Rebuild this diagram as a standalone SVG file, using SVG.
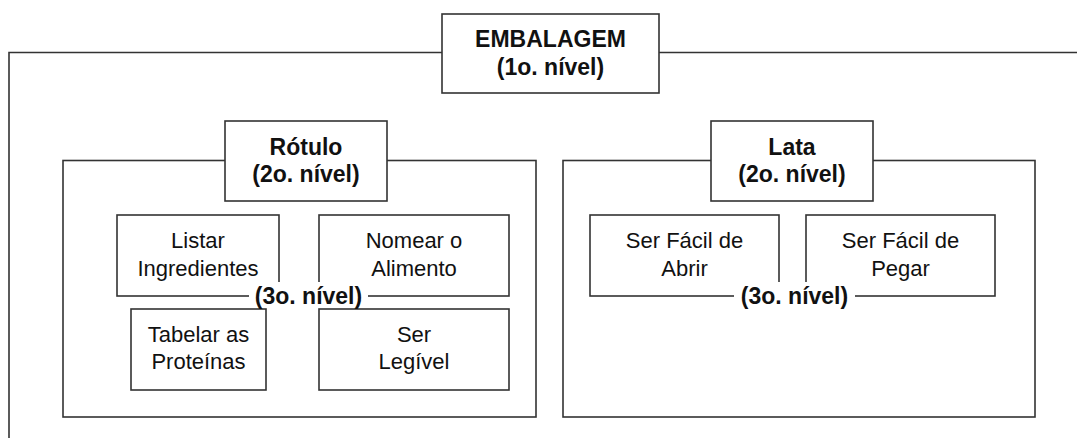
<svg xmlns="http://www.w3.org/2000/svg" width="1077" height="438" viewBox="0 0 1077 438">
<style>
.ln{fill:none;stroke:#333;stroke-width:1.6}
.bx{fill:#fff;stroke:#333;stroke-width:1.6}
.mask{fill:#fff;stroke:none}
.b{font-family:"Liberation Sans",Arial,sans-serif;font-weight:bold;font-size:23px;fill:#111;text-anchor:middle}
.n{font-family:"Liberation Sans",Arial,sans-serif;font-size:22px;fill:#111;text-anchor:middle}
</style>
<rect width="1077" height="438" fill="#fff"/>
<g id="frames">
<polyline class="ln" points="9,438 9,52.5 1077,52.5"/>
<rect class="ln" x="63" y="160.5" width="473" height="256.5"/>
<rect class="ln" x="563" y="160.5" width="472" height="256.5"/>
</g>
<g id="embalagem">
<rect class="bx" x="442" y="14" width="217" height="79"/>
<text class="b" x="550.5" y="47">EMBALAGEM</text>
<text class="b" x="550.5" y="75">(1o. nível)</text>
</g>
<g id="rotulo">
<rect class="bx" x="225" y="121" width="162" height="80"/>
<text class="b" x="306" y="155">Rótulo</text>
<text class="b" x="306" y="182">(2o. nível)</text>
</g>
<g id="lata">
<rect class="bx" x="711" y="121" width="162" height="80"/>
<text class="b" x="792" y="155">Lata</text>
<text class="b" x="792" y="182">(2o. nível)</text>
</g>
<g id="listar">
<rect class="bx" x="117" y="215" width="162" height="81"/>
<text class="n" x="198" y="248">Listar</text>
<text class="n" x="198" y="276">Ingredientes</text>
</g>
<g id="nomear">
<rect class="bx" x="319" y="215" width="190" height="81"/>
<text class="n" x="414" y="248">Nomear o</text>
<text class="n" x="414" y="276">Alimento</text>
</g>
<g id="tabelar">
<rect class="bx" x="131" y="309" width="135" height="81"/>
<text class="n" x="198.5" y="342">Tabelar as</text>
<text class="n" x="198.5" y="369">Proteínas</text>
</g>
<g id="legivel">
<rect class="bx" x="319" y="309" width="190" height="81"/>
<text class="n" x="414" y="342">Ser</text>
<text class="n" x="414" y="369">Legível</text>
</g>
<g id="abrir">
<rect class="bx" x="590" y="215" width="189" height="81"/>
<text class="n" x="684.5" y="248">Ser Fácil de</text>
<text class="n" x="684.5" y="276">Abrir</text>
</g>
<g id="pegar">
<rect class="bx" x="806" y="215" width="189" height="81"/>
<text class="n" x="900.5" y="248">Ser Fácil de</text>
<text class="n" x="900.5" y="276">Pegar</text>
</g>
<g id="nivel3-rotulo">
<rect class="mask" x="249" y="282" width="119" height="26"/>
<text class="b" x="308.5" y="304">(3o. nível)</text>
</g>
<g id="nivel3-lata">
<rect class="mask" x="734" y="282" width="121" height="26"/>
<text class="b" x="794.5" y="304">(3o. nível)</text>
</g>
<g id="connectors"></g>
</svg>
